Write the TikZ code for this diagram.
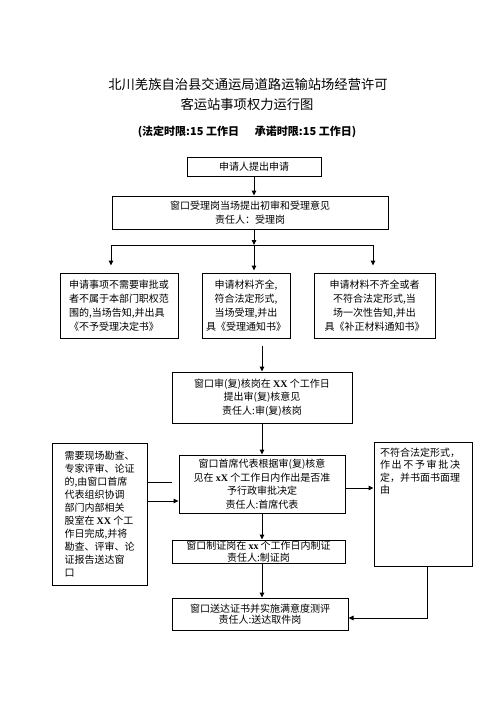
\documentclass[tikz,border=0pt]{standalone}
\usepackage{fontspec}
\setmainfont{Noto Sans CJK SC}
\newfontfamily\tms{Liberation Serif}
\usetikzlibrary{arrows.meta}
\newcommand\bx[1]{{\tms\bfseries #1}}
\begin{document}
\begin{tikzpicture}[x=1pt,y=-1pt,
  box/.style={draw, line width=1pt, inner sep=0pt, align=center, font=\fontsize{10}{13.5}\selectfont},
  arr/.style={-{Triangle[length=5pt,width=4.5pt]}, line width=1pt},
  ln/.style={line width=1pt}]
\useasboundingbox[fill=white] (0,0) rectangle (496,702);
% titles
\node[font=\fontsize{13.3}{16}\selectfont] (t1) at (248,84) {北川羌族自治县交通运局道路运输站场经营许可};
\node[font=\fontsize{13.3}{16}\selectfont] (t2) at (247,104) {客运站事项权力运行图};
\node[font=\bfseries\fontsize{11}{13}\selectfont] (t3) at (247,132) {(法定时限:15 工作日\hspace{16pt}承诺时限:15 工作日)};
% boxes
\node[box, minimum width=134, minimum height=19] (A) at (254,166.5) {申请人提出申请};
\node[box, minimum width=276, minimum height=33, font=\fontsize{10}{14}\selectfont] (B) at (250,212.5) {窗口受理岗当场提出初审和受理意见\\责任人：受理岗};
\node[box, minimum width=118, minimum height=65, align=left, font=\fontsize{10}{14}\selectfont] (L1) at (119,305.5) {申请事项不需要审批或\\者不属于本部门职权范\\围的,当场告知,并出具\\《不予受理决定书》};
\node[box, minimum width=88, minimum height=65, font=\fontsize{10}{14}\selectfont] (M1) at (246,305.5) {申请材料齐全,\\符合法定形式,\\当场受理,并出\\具《受理通知书》};
\node[box, minimum width=121, minimum height=65, font=\fontsize{10}{14}\selectfont] (R1) at (374.5,305.5) {申请材料不齐全或者\\不符合法定形式,当\\场一次性告知,并出\\具《补正材料通知书》};
\node[box, minimum width=180, minimum height=51] (C) at (262,397.5) {窗口审(复)核岗在 \bx{XX} 个工作日\\提出审(复)核意见\\责任人:审(复)核岗};
\node[box, minimum width=166, minimum height=58] (D) at (262,484) {窗口首席代表根据审(复)核意\\见在 \bx{xX} 个工作日内作出是否准\\予行政审批决定\\责任人:首席代表};
\node[box, minimum width=95, minimum height=142, align=left, font=\fontsize{10}{13}\selectfont] (E) at (99.5,514) {需要现场勘查、\\专家评审、论证\\的,由窗口首席\\代表组织协调\\部门内部相关\\股室在 \bx{XX} 个工\\作日完成,并将\\勘查、评审、论\\证报告送达窗\\口};
\node[box, minimum width=98, minimum height=124, font=\fontsize{10}{12.4}\selectfont] (F) at (423,504) {\parbox[t][112pt][t]{86pt}{不符合法定形式，\\\makebox[80pt][s]{作\hfill 出\hfill 不\hfill 予\hfill 审\hfill 批\hfill 决}\\定，并书面书面理\\由}};
\node[box, minimum width=173, minimum height=23, font=\fontsize{10}{11.5}\selectfont] (G) at (258.5,551.5) {窗口制证岗在 \bx{xx} 个工作日内制证\\责任人:制证岗};
\node[box, minimum width=176, minimum height=32, font=\fontsize{10}{11.5}\selectfont] (H) at (260,614) {窗口送达证书并实施满意度测评\\责任人:送达取件岗};
% connectors
\draw[arr] (A.south) -- (A.south |- B.north);
\coordinate (bc) at (254,245);
\coordinate (bl) at (111,245);
\coordinate (br) at (373,245);
\draw[arr] (bc |- B.south) -- (bc);
\draw[ln] (bl) -- (br);
\draw[arr, shorten >=7pt] (bl) -- (bl |- L1.north);
\draw[arr, shorten >=7pt] (br) -- (br |- R1.north);
\draw[arr, shorten >=2pt] (bc) -- (bc |- M1.north);
\draw[arr] ([yshift=-7pt]C.north |- M1.south) -- (C.north);
\draw[arr] (C.south) -- (D.north);
\coordinate (u) at (172,482);
\draw[ln] (E.east |- u) -- (u);
\coordinate (ea) at (160,501);
\draw[arr] (E.east |- ea) -- (D.west |- ea);
\coordinate (fa) at (360,488);
\draw[arr] (D.east |- fa) -- (F.west |- fa);
\draw[arr] (D.south) -- (D.south |- G.north);
\draw[arr] (D.south |- G.south) -- (D.south |- H.north);
\coordinate (hf) at (427,618);
\draw[arr] (hf |- F.south) -- (hf) -- (H.east |- hf);
\end{tikzpicture}
\end{document}
